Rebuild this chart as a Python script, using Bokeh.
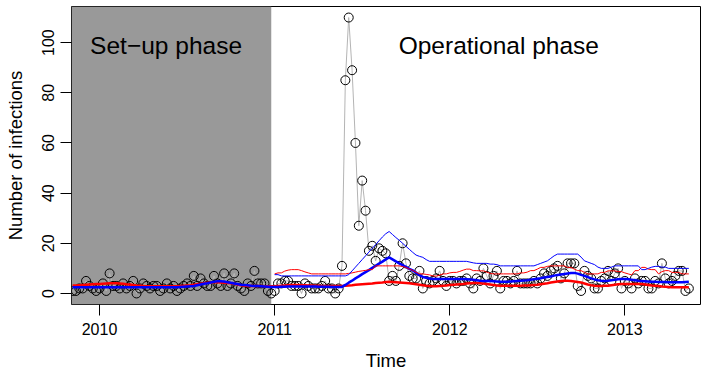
from bokeh.plotting import figure
from bokeh.models import Range1d, FixedTicker, BoxAnnotation, Label
from bokeh.embed import file_html
from bokeh.resources import INLINE

# ---- data -------------------------------------------------------------
# weekly series: first week = 2009 week 45, last = 2013 week 20
start_year = 2009
start_week = 45
setup_weeks = 60          # 2009 w45 .. 2010 w52 (set-up phase)

counts = [
    1, 1, 2, 2, 5, 3, 2, 1, 2, 4,
    1, 8, 3, 3, 2, 4, 2, 3, 5, 0,
    2, 4, 3, 2, 3, 3, 1, 2, 4, 2,
    3, 1, 2, 3, 4, 3, 7, 3, 6, 4,
    3, 3, 7, 4, 3, 8, 3, 4, 8, 3,
    2, 1, 4, 3, 9, 4, 4, 4, 1, 0,
    1, 4, 4, 5, 5, 3, 3, 3, 0, 4,
    3, 2, 2, 2, 3, 5, 2, 2, 0, 2,
    11, 85, 110, 89, 60, 27, 45, 33, 17, 19,
    13, 18, 17, 16, 5, 7, 5, 11, 20, 12,
    7, 6, 6, 9, 2, 5, 4, 5, 6, 9,
    5, 3, 5, 5, 4, 5, 5, 6, 4, 2,
    6, 5, 10, 7, 4, 7, 9, 2, 5, 5,
    4, 5, 9, 4, 4, 4, 4, 5, 4, 6,
    8, 7, 9, 10, 11, 6, 8, 12, 12, 12,
    3, 1, 9, 7, 6, 2, 2, 5, 6, 9,
    5, 8, 10, 2, 5, 4, 2, 6, 4, 5,
    5, 2, 2, 5, 4, 12, 6, 4, 5, 7,
    9, 9, 1, 2,
]

expected_blue = [
    2.5, 2.5, 2.5, 2.5, 2.5, 2.5, 2.5, 2.5, 2.5, 2.5,
    2.5, 2.5, 2.5, 2.5, 2.5, 2.5, 2.5, 2.5, 2.5, 2.5,
    2.5, 2.5, 2.5, 2.5, 2.5, 2.5, 2.5, 2.5, 2.5, 2.5,
    2.5, 2.5, 2.6, 2.7, 2.8, 2.9, 3.0, 3.3, 3.6, 3.9,
    4.1, 4.4, 4.7, 4.9, 4.9, 4.8, 4.5, 4.3, 4.0, 3.8,
    3.5, 3.4, 3.3, 3.1, 3.0, 3.0, 2.9, 2.8, 2.7, 2.6,
    2.6, 2.6, 2.7, 2.7, 2.8, 2.8, 2.8, 2.8, 2.8, 2.8,
    2.8, 2.8, 2.8, 2.7, 2.7, 2.7, 2.7, 2.6, 2.6, 2.6,
    2.6, 3.4, 4.3, 5.1, 6.0, 6.8, 7.7, 8.5, 9.3, 10.2,
    11.0, 11.9, 12.7, 13.6, 14.4, 13.6, 12.8, 12.0, 11.3, 10.6,
    9.8, 9.2, 8.3, 7.3, 6.6, 6.3, 6.0, 5.8, 5.8, 5.8,
    5.8, 5.8, 5.8, 5.8, 5.8, 5.8, 5.8, 5.7, 5.6, 5.5,
    5.3, 5.1, 5.0, 5.0, 5.0, 4.9, 4.8, 4.7, 4.7, 4.7,
    4.8, 4.9, 5.0, 5.1, 5.2, 5.3, 5.5, 5.7, 5.9, 6.1,
    6.4, 6.6, 6.8, 7.1, 7.4, 7.6, 7.8, 8.0, 8.2, 8.2,
    7.9, 7.4, 7.0, 6.5, 6.0, 5.6, 5.3, 5.1, 5.0, 5.1,
    5.3, 5.5, 5.7, 5.8, 5.8, 5.7, 5.5, 5.3, 5.1, 5.0,
    4.9, 4.8, 4.7, 4.7, 4.6, 4.6, 4.6, 4.5, 4.5, 4.5,
    4.5, 4.5, 4.6, 4.7,
]

expected_red = [
    3.2, 3.2, 3.3, 3.4, 3.5, 3.6, 3.7, 3.8, 3.8, 3.9,
    4.0, 4.1, 4.1, 4.1, 4.0, 3.9, 3.7, 3.6, 3.4, 3.2,
    3.1, 3.0, 2.9, 2.9, 2.9, 2.9, 2.9, 2.9, 2.9, 2.9,
    2.9, 2.9, 3.0, 3.1, 3.2, 3.3, 3.5, 3.7, 3.9, 4.1,
    4.3, 4.4, 4.5, 4.5, 4.4, 4.3, 4.2, 4.1, 3.9, 3.6,
    3.3, 3.1, 3.0, 3.0, 3.0, 3.0, 3.0, 2.9, 2.9, 2.9,
    2.9, 3.0, 3.1, 3.2, 3.3, 3.4, 3.4, 3.4, 3.3, 3.3,
    3.2, 3.2, 3.1, 3.1, 3.0, 3.0, 3.0, 3.0, 3.0, 3.0,
    3.0, 3.1, 3.2, 3.3, 3.5, 3.6, 3.7, 3.8, 3.9, 4.0,
    4.2, 4.3, 4.4, 4.6, 4.7, 4.6, 4.5, 4.4, 4.3, 4.2,
    4.1, 3.9, 3.7, 3.5, 3.3, 3.1, 3.0, 2.9, 2.9, 3.0,
    3.1, 3.2, 3.4, 3.5, 3.6, 3.7, 3.8, 4.0, 4.1, 4.2,
    4.2, 4.1, 4.0, 3.8, 3.6, 3.4, 3.2, 3.1, 3.1, 3.1,
    3.1, 3.1, 3.1, 3.1, 3.2, 3.2, 3.3, 3.4, 3.5, 3.7,
    3.9, 4.1, 4.4, 4.6, 4.8, 5.0, 5.1, 5.1, 5.0, 4.8,
    4.6, 4.4, 4.0, 3.6, 3.3, 3.1, 3.0, 3.0, 3.1, 3.1,
    3.3, 3.5, 3.7, 3.8, 3.8, 3.8, 3.8, 3.8, 3.8, 3.8,
    3.6, 3.4, 3.2, 3.1, 3.0, 2.8, 2.7, 2.6, 2.5, 2.5,
    2.5, 2.5, 2.5, 2.5,
]

# upper thresholds (operational phase only: 2011 w1 .. 2013 w20)
upper_blue = [
    7.5, 7.5, 7.0, 7.0, 7.0, 7.0, 7.0, 7.0, 7.0, 7.0,
    7.0, 7.0, 7.0, 7.0, 7.0, 7.0, 7.0, 7.0, 7.0, 7.0,
    7.0, 7.0, 7.5, 9.0, 10.5, 12.0, 13.5, 15.0, 16.5, 18.0,
    19.5, 21.0, 22.5, 23.8, 24.7, 23.5, 22.3, 21.2, 20.0, 18.8,
    17.6, 16.4, 15.3, 14.8, 14.4, 13.5, 12.8, 12.8, 12.8, 12.8,
    12.8, 12.8, 12.8, 12.8, 12.8, 12.8, 12.8, 12.8, 12.5, 12.2,
    12.0, 12.0, 12.0, 12.0, 11.7, 11.7, 11.5, 11.0, 11.0, 11.0,
    11.0, 11.0, 11.0, 11.0, 11.0, 11.0, 11.0, 11.0, 11.5, 12.0,
    12.5, 13.0, 14.0, 15.0, 15.7, 15.7, 15.7, 15.7, 15.7, 15.7,
    15.7, 14.5, 13.0, 12.5, 12.0, 11.5, 10.5, 10.0, 10.0, 10.0,
    10.5, 11.0, 11.0, 11.0, 11.0, 11.0, 11.0, 11.0, 11.0, 9.5,
    9.5, 10.0, 10.5, 10.8, 10.8, 10.5, 10.5, 10.0, 10.0, 10.0,
    10.0, 10.0, 10.0, 10.0,
]

upper_red = [
    7.8, 8.2, 8.2, 8.9, 9.3, 9.5, 9.5, 9.5, 9.1, 8.6,
    8.2, 7.8, 7.8, 7.8, 7.8, 7.8, 7.8, 7.8, 7.8, 7.8,
    7.8, 7.8, 8.0, 8.2, 8.5, 8.8, 9.0, 9.2, 9.5, 9.5,
    11.0, 11.0, 11.0, 11.0, 11.0, 11.0, 11.0, 11.0, 10.7, 10.4,
    9.7, 9.2, 8.5, 7.8, 7.8, 7.6, 7.4, 7.0, 6.9, 7.3,
    7.8, 7.8, 8.2, 8.4, 8.4, 8.8, 9.3, 9.7, 9.7, 9.1,
    9.1, 9.0, 9.0, 8.5, 8.0, 7.8, 7.8, 7.8, 7.8, 7.8,
    7.8, 7.8, 7.8, 8.2, 8.2, 8.5, 9.1, 9.1, 9.7, 10.4,
    10.4, 10.8, 11.0, 11.0, 11.0, 11.0, 11.0, 10.4, 10.4, 9.7,
    9.1, 9.1, 8.4, 7.8, 7.8, 7.8, 7.8, 8.4, 8.4, 9.0,
    9.0, 9.0, 8.7, 8.7, 8.2, 7.8, 7.4, 9.1, 9.1, 10.4,
    10.4, 9.7, 9.5, 9.5, 7.8, 8.7, 9.1, 9.1, 8.4, 8.4,
    8.4, 7.8, 7.8, 7.8,
]

year_ticks = [2010, 2011, 2012, 2013]
y_ticks = [0, 20, 40, 60, 80, 100]

# time axis: year + (week - 1) / 52
t = [start_year + (start_week - 1 + i) / 52 for i in range(len(counts))]
t_oper = t[setup_weeks:]

FONT = "Liberation Sans"

p = figure(width=703, height=373, output_backend="svg", toolbar_location=None,
           x_range=Range1d(2009.84, 2013.432), y_range=Range1d(-4.4, 114.4),
           min_border_left=71, min_border_right=3, min_border_top=6,
           min_border_bottom=67, background_fill_color="white",
           border_fill_color="white")
p.xgrid.visible = False
p.ygrid.visible = False
p.outline_line_color = "black"
p.outline_line_width = 1

# set-up phase shading
p.add_layout(BoxAnnotation(right=t[setup_weeks - 1], fill_color="#999999",
                           fill_alpha=1.0, line_alpha=0, level="underlay"))

p.line(t, counts, line_color="#B4B4B4", line_width=1)
p.scatter(t, counts, marker="circle", size=9, fill_color=None,
          line_color="black", line_width=1)

p.line(t, expected_red, line_color="#FF0000", line_width=2.5)
p.line(t, expected_blue, line_color="#0000FF", line_width=2.5)
p.line(t_oper, upper_red, line_color="#FF0000", line_width=1)
p.line(t_oper, upper_blue, line_color="#0000FF", line_width=1)

p.add_layout(Label(x=2010.38, y=99, text="Set\u2212up phase", text_align="center",
                   text_baseline="alphabetic", text_font=FONT,
                   text_font_size="24.5px", text_color="black"))
p.add_layout(Label(x=2012.28, y=99, text="Operational phase", text_align="center",
                   text_baseline="alphabetic", text_font=FONT,
                   text_font_size="24.5px", text_color="black"))

for ax in (p.xaxis[0], p.yaxis[0]):
    ax.axis_line_color = None
    ax.major_tick_line_color = "black"
    ax.major_tick_in = 0
    ax.major_tick_out = 11
    ax.minor_tick_line_color = None
    ax.major_label_text_font = FONT
    ax.major_label_text_font_size = "16px"
    ax.major_label_text_color = "black"
    ax.axis_label_text_font = FONT
    ax.axis_label_text_font_size = "18.5px"
    ax.axis_label_text_font_style = "normal"
    ax.axis_label_text_color = "black"

p.xaxis.ticker = FixedTicker(ticks=year_ticks)
p.xaxis.major_label_overrides = {y: str(y) for y in year_ticks}
p.xaxis.major_label_standoff = 7
p.xaxis.axis_label = "Time"
p.xaxis.axis_label_standoff = 12

p.yaxis.ticker = FixedTicker(ticks=y_ticks)
p.yaxis.major_label_orientation = "vertical"
p.yaxis.major_label_standoff = 6
p.yaxis.axis_label = "Number of infections"
p.yaxis.axis_label_standoff = 14

open("out.html", "w").write(file_html(p, INLINE))
